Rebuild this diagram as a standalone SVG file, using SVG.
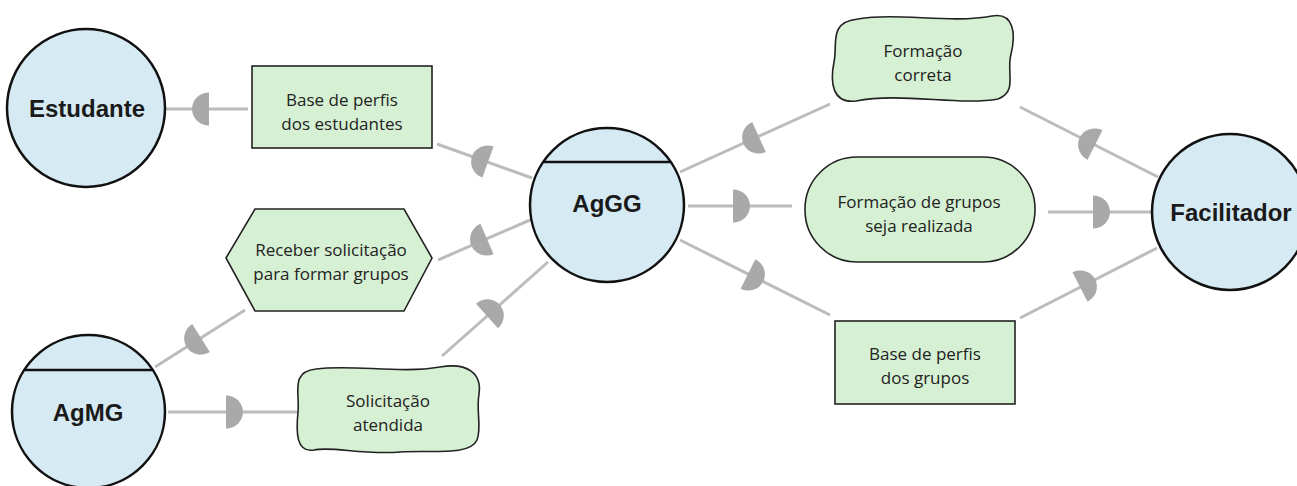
<svg xmlns="http://www.w3.org/2000/svg" xmlns:xlink="http://www.w3.org/1999/xlink" width="1297" height="486" viewBox="0 0 1297 486">
  <style>
    .actor { fill: #d6eaf3; stroke: #111; stroke-width: 2.5; }
    .divider { stroke: #111; stroke-width: 2.5; }
    .actor-label { font-family: "Liberation Sans", Arial, sans-serif; font-weight: bold; font-size: 24px; fill: #1a1a1a; text-anchor: middle; }
    .element { fill: #d6f0d3; stroke: #222; stroke-width: 1.6; }
    .label { font-family: "Open Sans", "Noto Sans", sans-serif; font-size: 17px; fill: #222; text-anchor: middle; }
    .link { stroke: #bcbcbc; stroke-width: 3; fill: none; }
    .dep { fill: #a9a9a9; }
  </style>
  <defs>
    <!-- half-disc dependency mark; the rounded side points along +x -->
    <path id="dep" class="dep" d="M0,-16.5 A17,16.5 0 0 1 0,16.5 Z"/>
  </defs>

  <rect width="1297" height="486" fill="#ffffff"/>

  <g id="connectors">
    <line class="link" x1="166" y1="109" x2="248" y2="109"/>
    <line class="link" x1="437" y1="144" x2="532" y2="178"/>
    <line class="link" x1="438" y1="260" x2="530" y2="220"/>
    <line class="link" x1="245" y1="310" x2="155" y2="367"/>
    <line class="link" x1="168" y1="412" x2="297" y2="412"/>
    <line class="link" x1="442" y1="356" x2="548" y2="262"/>
    <line class="link" x1="680" y1="172" x2="830" y2="104"/>
    <line class="link" x1="688" y1="206" x2="792" y2="206"/>
    <line class="link" x1="680" y1="240" x2="830" y2="315"/>
    <line class="link" x1="1020" y1="107" x2="1158" y2="177"/>
    <line class="link" x1="1048" y1="212" x2="1152" y2="212"/>
    <line class="link" x1="1020" y1="318" x2="1157" y2="248"/>

    <use href="#dep" transform="translate(209,109) rotate(180)"/>
    <use href="#dep" transform="translate(488,162) rotate(199.7)"/>
    <use href="#dep" transform="translate(487,239) rotate(156.5)"/>
    <use href="#dep" transform="translate(201,338) rotate(147.7)"/>
    <use href="#dep" transform="translate(226,412)"/>
    <use href="#dep" transform="translate(487,316) rotate(-41.6)"/>
    <use href="#dep" transform="translate(759,137) rotate(155.6)"/>
    <use href="#dep" transform="translate(733,206)"/>
    <use href="#dep" transform="translate(748,274) rotate(26.6)"/>
    <use href="#dep" transform="translate(1095,145) rotate(206.9)"/>
    <use href="#dep" transform="translate(1093,212)"/>
    <use href="#dep" transform="translate(1080,287) rotate(-27.1)"/>
  </g>

  <g id="estudante">
    <circle class="actor" cx="86" cy="108" r="79"/>
    <text class="actor-label" x="87" y="117">Estudante</text>
  </g>

  <g id="agmg">
    <circle class="actor" cx="88.5" cy="411.5" r="76.5"/>
    <line class="divider" x1="25" y1="370" x2="152" y2="370"/>
    <text class="actor-label" x="88" y="421">AgMG</text>
  </g>

  <g id="aggg">
    <circle class="actor" cx="607" cy="205" r="77"/>
    <line class="divider" x1="543" y1="162" x2="671" y2="162"/>
    <text class="actor-label" x="607" y="212">AgGG</text>
  </g>

  <g id="facilitador">
    <circle class="actor" cx="1230" cy="212" r="78"/>
    <text class="actor-label" x="1231" y="221">Facilitador</text>
  </g>

  <g id="base-estudantes">
    <rect class="element" x="252" y="66" width="180" height="82"/>
    <text class="label" x="342" y="106">Base de perfis</text>
    <text class="label" x="342" y="130">dos estudantes</text>
  </g>

  <g id="receber-solicitacao">
    <polygon class="element" points="226,258 255,209 404,209 432,258 404,311 255,311"/>
    <text class="label" x="331" y="256">Receber solicitação</text>
    <text class="label" x="331" y="280">para formar grupos</text>
  </g>

  <g id="solicitacao-atendida">
    <path class="element" d="M316,369 C352,364 400,374 440,367 C468,362 482,374 479,394 C476,412 482,428 477,440 C470,456 432,450 400,452 C362,455 332,446 314,450 C296,453 296,432 298,412 C300,392 290,372 316,369 Z"/>
    <text class="label" x="388" y="407">Solicitação</text>
    <text class="label" x="388" y="431">atendida</text>
  </g>

  <g id="formacao-correta">
    <path class="element" d="M858,19 C898,12 950,24 992,16 C1014,12 1016,34 1011,54 C1006,72 1018,92 998,99 C960,106 900,92 856,101 C832,104 830,82 834,62 C838,44 828,22 858,19 Z"/>
    <text class="label" x="923" y="57">Formação</text>
    <text class="label" x="923" y="81">correta</text>
  </g>

  <g id="formacao-grupos">
    <rect class="element" x="805" y="157" width="230" height="105" rx="52" ry="52"/>
    <text class="label" x="919" y="208">Formação de grupos</text>
    <text class="label" x="919" y="232">seja realizada</text>
  </g>

  <g id="base-grupos">
    <rect class="element" x="835" y="321" width="180" height="83"/>
    <text class="label" x="925" y="360">Base de perfis</text>
    <text class="label" x="925" y="384">dos grupos</text>
  </g>
</svg>
